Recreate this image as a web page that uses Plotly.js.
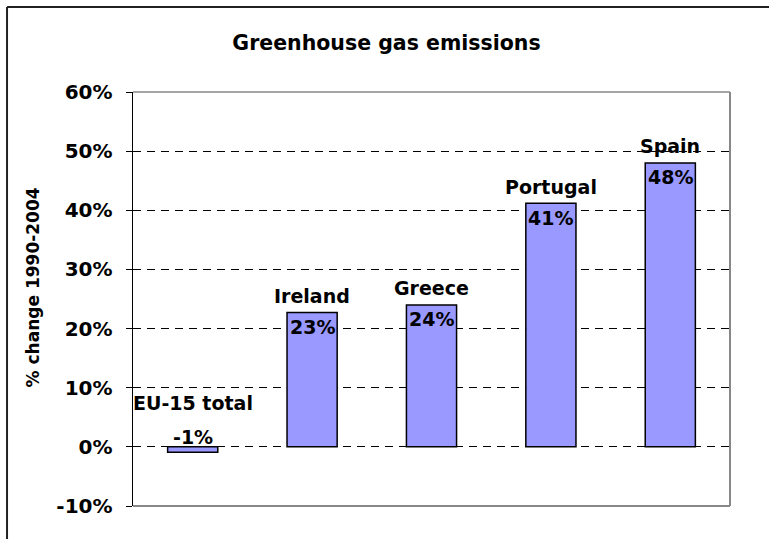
<!DOCTYPE html>
<html>
<head>
<meta charset="utf-8">
<script src="https://cdn.plot.ly/plotly-3.0.1.min.js"></script>
<style>html,body{margin:0;padding:0;background:#fff;}#chart{width:769px;height:539px;}</style>
</head>
<body>
<div id="chart"></div>
<script>
const categories = ['EU-15 total', 'Ireland', 'Greece', 'Portugal', 'Spain'];
const values = [-0.9, 22.7, 24.0, 41.2, 48.0];
const valueLabels = ['-1%', '23%', '24%', '41%', '48%'];
const yTicks = [-10, 0, 10, 20, 30, 40, 50, 60];
const yTickLabels = ['-10%', '0%', '10%', '20%', '30%', '40%', '50%', '60%'];

const FONT = 'DejaVu Sans, Arial, sans-serif';
const LBL = {family: FONT, size: 19, color: '#000', weight: 'bold'};

const annotations = [];
categories.forEach((c, i) => {
  const v = values[i];
  if (v >= 0) {
    annotations.push({x: c, y: v, xref: 'x', yref: 'y', text: '<b>' + c + '</b>', showarrow: false,
      xanchor: 'center', yanchor: 'bottom', yshift: 3.5, font: LBL});
    annotations.push({x: c, y: v, xref: 'x', yref: 'y', text: '<b>' + valueLabels[i] + '</b>', showarrow: false,
      xanchor: 'center', yanchor: 'top', yshift: -1.5, font: LBL});
  } else {
    annotations.push({x: c, y: 0, xref: 'x', yref: 'y', text: '<b>' + c + '</b>', showarrow: false,
      xanchor: 'center', yanchor: 'bottom', yshift: 30.5, font: LBL});
    annotations.push({x: c, y: 0, xref: 'x', yref: 'y', text: '<b>' + valueLabels[i] + '</b>', showarrow: false,
      xanchor: 'center', yanchor: 'bottom', yshift: -3.5, font: LBL});
  }
});
annotations.push({xref: 'paper', yref: 'paper', x: -0.1675, y: 0.528, textangle: -90,
  text: '<b>% change 1990-2004</b>', showarrow: false, xanchor: 'center', yanchor: 'middle',
  font: {family: FONT, size: 17, color: '#000'}});

const trace = {
  type: 'bar', x: categories, y: values, width: 0.42,
  marker: {color: '#9999FF', line: {color: '#000', width: 1.5}},
  hoverinfo: 'none'
};

const layout = {
  width: 769, height: 539,
  margin: {l: 133, r: 39, t: 92, b: 33, pad: 0},
  paper_bgcolor: '#fff', plot_bgcolor: '#fff',
  showlegend: false,
  title: {text: '<b>Greenhouse gas emissions</b>', xref: 'container', yref: 'container',
    x: 0.5026, y: 0.921, xanchor: 'center', yanchor: 'middle',
    font: {family: FONT, size: 20.5, color: '#000'}},
  xaxis: {type: 'category', range: [-0.5, 4.5], showticklabels: false, ticks: '',
    showgrid: false, zeroline: false, showline: false, fixedrange: true},
  yaxis: {range: [-10, 60], tickvals: yTicks, ticktext: yTickLabels,
    ticks: 'outside', ticklen: 6, tickwidth: 1, tickcolor: '#000',
    ticklabelstandoff: 9,
    tickfont: {family: FONT, size: 20, color: '#000', weight: 'bold'},
    showgrid: true, gridcolor: '#000', gridwidth: 1, griddash: '8px,6px',
    zeroline: false, showline: true, linecolor: '#000', linewidth: 1.5, fixedrange: true},
  shapes: [
    {type: 'line', xref: 'paper', yref: 'paper', x0: 0, x1: 1, y0: 1, y1: 1, line: {color: '#888', width: 1.5}, layer: 'above'},
    {type: 'line', xref: 'paper', yref: 'paper', x0: 1, x1: 1, y0: 0, y1: 1, line: {color: '#888', width: 2}, layer: 'above'},
    {type: 'line', xref: 'paper', yref: 'paper', x0: 0, x1: 1, y0: 0, y1: 0, line: {color: '#888', width: 2}, layer: 'above'},
    {type: 'line', xref: 'paper', yref: 'paper', x0: -0.211, x1: 1.2, y0: 1.2053, y1: 1.2053,
      line: {color: '#222', width: 2}, layer: 'above'},
    {type: 'line', xref: 'paper', yref: 'paper', x0: -0.211, x1: -0.211, y0: -0.25, y1: 1.2053,
      line: {color: '#222', width: 2}, layer: 'above'}
  ],
  annotations: annotations
};

Plotly.newPlot('chart', [trace], layout, {displayModeBar: false, staticPlot: true});
</script>
</body>
</html>
